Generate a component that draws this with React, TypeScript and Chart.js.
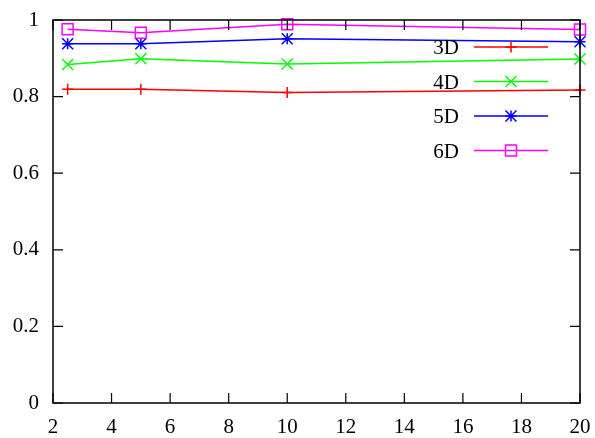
import React, { useEffect, useRef } from "react";
import { Chart, registerables } from "chart.js";

Chart.register(...registerables);

const xValues = [2.5, 5, 10, 20];
const seriesNames = ["3D", "4D", "5D", "6D"];
const values3D = [0.819, 0.819, 0.811, 0.817];
const values4D = [0.884, 0.899, 0.885, 0.898];
const values5D = [0.938, 0.938, 0.951, 0.943];
const values6D = [0.976, 0.967, 0.989, 0.975];
const seriesColors = ["#ff0000", "#00ff00", "#0000ff", "#ff00ff"];
const seriesMarkers = ["cross", "crossRot", "star", "rect"];
const xTicks = [2, 4, 6, 8, 10, 12, 14, 16, 18, 20];
const yTicks = [0, 0.2, 0.4, 0.6, 0.8, 1];

const FONT = "'Liberation Serif', 'Times New Roman', serif";

function drawMarker(ctx: CanvasRenderingContext2D, style: string, x: number, y: number, r: number) {
  ctx.beginPath();
  if (style === "cross") {
    ctx.moveTo(x - r, y); ctx.lineTo(x + r, y);
    ctx.moveTo(x, y - r); ctx.lineTo(x, y + r);
  } else if (style === "crossRot") {
    ctx.moveTo(x - r, y - r); ctx.lineTo(x + r, y + r);
    ctx.moveTo(x - r, y + r); ctx.lineTo(x + r, y - r);
  } else if (style === "star") {
    ctx.moveTo(x - r, y); ctx.lineTo(x + r, y);
    ctx.moveTo(x, y - r); ctx.lineTo(x, y + r);
    ctx.moveTo(x - r, y - r); ctx.lineTo(x + r, y + r);
    ctx.moveTo(x - r, y + r); ctx.lineTo(x + r, y - r);
  } else {
    ctx.rect(x - r, y - r, 2 * r, 2 * r);
  }
  ctx.stroke();
}

const framePlugin = {
  id: "gnuframe",
  afterDatasetsDraw(chart: any) {
    const { ctx, chartArea, scales } = chart;
    const { left, right, top, bottom } = chartArea;
    ctx.save();
    ctx.strokeStyle = "#000";
    ctx.lineWidth = 1.5;
    ctx.strokeRect(left, top, right - left, bottom - top);
    ctx.lineWidth = 1.2;
    const tl = 10;
    ctx.beginPath();
    for (const t of xTicks) {
      const px = scales.x.getPixelForValue(t);
      ctx.moveTo(px, bottom); ctx.lineTo(px, bottom - tl);
      ctx.moveTo(px, top); ctx.lineTo(px, top + tl);
    }
    for (const t of yTicks) {
      const py = scales.y.getPixelForValue(t);
      ctx.moveTo(left, py); ctx.lineTo(left + tl, py);
      ctx.moveTo(right, py); ctx.lineTo(right - tl, py);
    }
    ctx.stroke();

    // legend
    ctx.font = `21px ${FONT}`;
    ctx.textAlign = "right";
    ctx.textBaseline = "middle";
    seriesNames.forEach((name, i) => {
      const y = 47 + 34.5 * i;
      ctx.fillStyle = "#000";
      ctx.fillText(name, 459, y + 1.5);
      ctx.strokeStyle = seriesColors[i];
      ctx.lineWidth = 1.5;
      ctx.beginPath();
      ctx.moveTo(474, y); ctx.lineTo(548, y);
      ctx.stroke();
      drawMarker(ctx, seriesMarkers[i], 511, y, 5.5);
    });
    ctx.restore();
  },
};

const pointPlugin = {
  id: "gnupoints",
  afterDatasetsDraw(chart: any) {
    const { ctx } = chart;
    ctx.save();
    chart.data.datasets.forEach((ds: any, i: number) => {
      const meta = chart.getDatasetMeta(i);
      ctx.strokeStyle = seriesColors[i];
      ctx.lineWidth = 1.5;
      meta.data.forEach((pt: any) => {
        drawMarker(ctx, seriesMarkers[i], pt.x, pt.y, 5.5);
      });
    });
    ctx.restore();
  },
};

const zeroPad = (s: any) => {
  s.paddingLeft = 0;
  s.paddingRight = 0;
  s.paddingTop = 0;
  s.paddingBottom = 0;
};

export default function App() {
  const ref = useRef<HTMLCanvasElement>(null);
  useEffect(() => {
    document.body.style.margin = "0";
    const allValues = [values3D, values4D, values5D, values6D];
    const chart = new Chart(ref.current!, {
      type: "line",
      data: {
        datasets: allValues.map((vals, i) => ({
          label: seriesNames[i],
          data: xValues.map((x, j) => ({ x, y: vals[j] })),
          borderColor: seriesColors[i],
          backgroundColor: seriesColors[i],
          borderWidth: 1.5,
          pointRadius: 0,
          tension: 0,
          clip: false as any,
        })),
      },
      options: {
        animation: false,
        responsive: false,
        maintainAspectRatio: false,
        layout: { padding: { left: 0, right: 15, top: 20, bottom: 0 } },
        plugins: { legend: { display: false }, tooltip: { enabled: false } },
        scales: {
          x: {
            type: "linear",
            min: 2,
            max: 20,
            afterFit: (s: any) => { s.height = 35; zeroPad(s); },
            afterBuildTicks: (s: any) => { s.ticks = xTicks.map((v) => ({ value: v })); },
            grid: { display: false, drawTicks: false },
            border: { display: false },
            ticks: {
              color: "#000",
              font: { family: FONT, size: 21 },
              padding: 12,
              maxRotation: 0,
              autoSkip: false,
            },
          },
          y: {
            type: "linear",
            min: 0,
            max: 1,
            afterFit: (s: any) => { s.width = 53; zeroPad(s); },
            afterBuildTicks: (s: any) => { s.ticks = yTicks.map((v) => ({ value: v })); },
            grid: { display: false, drawTicks: false },
            border: { display: false },
            ticks: {
              color: "#000",
              font: { family: FONT, size: 21 },
              padding: 14,
              autoSkip: false,
              callback: (v: any) => String(Number(v)),
            },
          },
        },
      },
      plugins: [pointPlugin, framePlugin],
    });
    return () => chart.destroy();
  }, []);
  return (
    <div style={{ width: 595, height: 438 }}>
      <canvas ref={ref} width={595} height={438} style={{ width: 595, height: 438 }} />
    </div>
  );
}
